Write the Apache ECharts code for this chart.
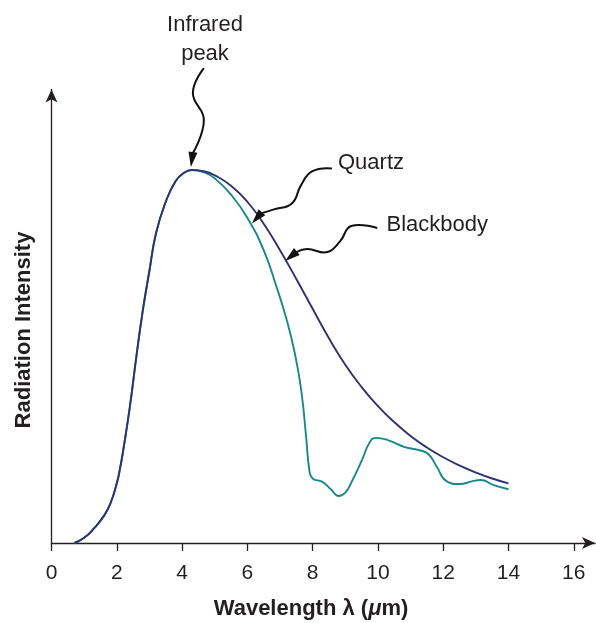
<!DOCTYPE html>
<html><head><meta charset="utf-8">
<script src="https://cdn.jsdelivr.net/npm/echarts@6/dist/echarts.min.js"></script>
<style>html,body{margin:0;padding:0;background:#fff}#c{width:596px;height:623px}</style>
</head><body><div id="c"></div>
<script>
// ---- data ----
const xTicks = [0, 2, 4, 6, 8, 10, 12, 14, 16];
const bbX = [0.7, 1.0, 1.3, 1.6, 1.8, 2.0, 2.1, 2.2, 2.4, 2.6, 2.8, 3.0, 3.2, 3.5, 3.8, 4.05, 4.3, 4.7, 5.0, 5.5, 6.0, 6.5, 7.0, 7.5, 8.0, 8.5, 9.0, 9.5, 10.0, 10.5, 11.0, 11.5, 12.0, 12.5, 13.0, 13.5, 14.0];
const bbY = [0, 1.4, 3.9, 7.2, 10.5, 16, 20, 25, 36.5, 50, 62.5, 73, 83, 91.5, 97, 99.2, 100, 99.6, 98.6, 95.8, 91.5, 85.6, 78.5, 70.8, 62.8, 54.9, 47.8, 41.8, 36.7, 32.4, 28.7, 25.6, 23, 20.8, 18.9, 17.3, 16];
const qzX = [0.7, 1.0, 1.3, 1.6, 1.8, 2.0, 2.1, 2.2, 2.4, 2.6, 2.8, 3.0, 3.2, 3.5, 3.8, 4.05, 4.3, 4.7, 5.0, 5.5, 6.0, 6.5, 6.9, 7.2, 7.45, 7.65, 7.8, 7.9, 8.0, 8.3, 8.55, 8.8, 9.0, 9.2, 9.5, 9.75, 9.95, 10.3, 10.8, 11.3, 11.55, 11.8, 12.1, 12.5, 12.9, 13.15, 13.55, 14.0];
const qzY = [0, 1.4, 3.9, 7.2, 10.5, 16, 20, 25, 36.5, 50, 62.5, 73, 83, 91.5, 97, 99.2, 100, 99.3, 97.8, 93.4, 87.2, 78.5, 68.5, 60, 51, 41, 28.5, 19.5, 17.3, 16.4, 14.5, 12.6, 13.5, 16.5, 22, 27, 28.2, 27.6, 25.8, 24.8, 23.8, 20.5, 16.6, 15.8, 16.6, 16.9, 15.5, 14.4];
const xTitle = 'Wavelength λ (μm)';
const yTitle = 'Radiation Intensity';
const annPeak = ['Infrared', 'peak'];
const annQuartz = 'Quartz';
const annBlack = 'Blackbody';

const FONT = '"Liberation Sans", Arial, Helvetica, sans-serif';
const INK = '#231f20';
const bbColor = '#2e3272';
const qzColor = '#17898a';

const zip = (xs, ys) => xs.map((x, i) => [x, ys[i]]);

const chart = echarts.init(document.getElementById('c'), null, { renderer: 'canvas' });
chart.setOption({
  animation: false,
  backgroundColor: '#fff',
  grid: { left: 51.5, right: 1, top: 89.5, bottom: 80, containLabel: false, outerBoundsMode: 'none' },
  xAxis: {
    type: 'value', min: 0, max: 16.65,
    axisLine: { show: true, symbol: ['none', 'arrow'], symbolSize: [9, 13], lineStyle: { color: INK, width: 1.3 } },
    axisTick: { show: true, length: 8, customValues: xTicks, lineStyle: { color: INK, width: 1.3 } },
    axisLabel: { customValues: xTicks, margin: 20, fontSize: 21, fontFamily: FONT, color: INK },
    splitLine: { show: false }
  },
  yAxis: {
    type: 'value', min: 0, max: 121.6,
    axisLine: { show: true, symbol: ['none', 'arrow'], symbolSize: [9, 13], lineStyle: { color: INK, width: 1.3 } },
    axisTick: { show: false }, axisLabel: { show: false }, splitLine: { show: false }
  },
  series: [
    { name: 'Quartz', type: 'line', data: zip(qzX, qzY), showSymbol: false, smooth: 0.5,
      lineStyle: { color: qzColor, width: 1.9 }, z: 2 },
    { name: 'Blackbody', type: 'line', data: zip(bbX, bbY), showSymbol: false, smooth: 0.5,
      lineStyle: { color: bbColor, width: 1.9 }, z: 3 }
  ]
});

function arrowHead(tip, from, len, hw) {
  const dx = tip[0] - from[0], dy = tip[1] - from[1];
  const d = Math.hypot(dx, dy);
  const ux = dx / d, uy = dy / d;
  const bx = tip[0] - ux * len, by = tip[1] - uy * len;
  return { type: 'polygon', shape: { points: [tip, [bx - uy * hw, by + ux * hw], [bx + uy * hw, by - ux * hw]] }, style: { fill: '#111' }, z: 10 };
}
function squiggle(tip, rel) {
  const pts = rel.map(p => [tip[0] + p[0], tip[1] + p[1]]);
  return [
    { type: 'polyline', shape: { points: pts, smooth: 0.45 }, style: { stroke: '#111', lineWidth: 2, fill: null }, z: 10 },
    arrowHead(tip, pts[pts.length - 1], 15, 4.5)
  ];
}

const tPeak = chart.convertToPixel({ gridIndex: 0 }, [4.3, 100]); tPeak[1] -= 3; tPeak[0] -= 1;
const tQz = chart.convertToPixel({ gridIndex: 0 }, [6.14, 85.7]);
const tBb = chart.convertToPixel({ gridIndex: 0 }, [7.16, 75.6]);

const txt = (text, x, y, align, extra) => Object.assign({ type: 'text', x, y, style: { text, font: '22px ' + FONT, fill: INK, align, verticalAlign: 'middle' }, z: 10 }, extra || {});

chart.setOption({
  graphic: [
    txt(annPeak[0], 205, 25, 'center'),
    txt(annPeak[1], 205, 54, 'center'),
    txt(annQuartz, 338, 162.5, 'left'),
    txt(annBlack, 386.5, 224.5, 'left'),
    ...squiggle(tPeak, [[13, -99], [2, -74], [13, -47], [2, -14]]),
    ...squiggle(tQz, [[80, -55], [60, -52], [49, -38], [40, -20], [22, -14], [9, -10]]),
    ...squiggle(tBb, [[92, -33], [66, -35], [55, -20], [42, -9], [22, -12], [11, -9]]),
    { type: 'text', x: 311, y: 609, style: { text: '{b|Wavelength λ (}{i|μ}{b|m)}', align: 'center', verticalAlign: 'middle',
        rich: { b: { font: 'bold 22px ' + FONT, fill: INK }, i: { font: 'italic bold 22px ' + FONT, fill: INK } } }, z: 10 },
    { type: 'text', x: 23.5, y: 330, rotation: Math.PI / 2, style: { text: yTitle, font: 'bold 22px ' + FONT, fill: INK, align: 'center', verticalAlign: 'middle' }, z: 10 }
  ]
});
</script>
</body></html>
